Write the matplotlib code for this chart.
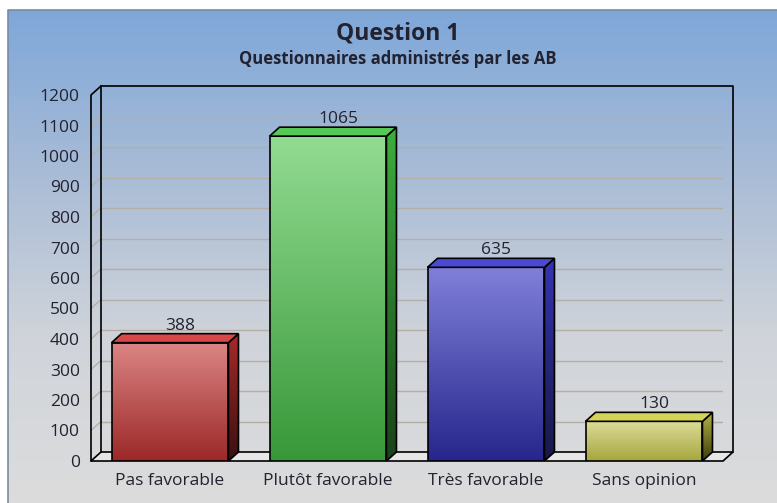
import numpy as np
import matplotlib.pyplot as plt
from matplotlib.patches import Polygon
from matplotlib.colors import LinearSegmentedColormap

# -----------------------------
# DATA
# -----------------------------
categories = ["Pas favorable", "Plutôt favorable", "Très favorable", "Sans opinion"]
values = [388, 1065, 635, 130]
y_ticks = [0, 100, 200, 300, 400, 500, 600, 700, 800, 900, 1000, 1100, 1200]

title = "Question 1"
subtitle = "Questionnaires administrés par les AB"

# (front top, front bottom, top face, side top, side bottom)
bar_colors = [
    ("#dc8585", "#9c2828", "#d84848", "#a82a2a", "#3a1010"),
    ("#92db92", "#389838", "#55c855", "#3eae3e", "#1a421a"),
    ("#8080da", "#26268c", "#4a4ad2", "#3434b2", "#181848"),
    ("#dcdc9a", "#a6a63e", "#d4d456", "#b4b444", "#3c3c10"),
]

plt.rcParams["font.family"] = ["Open Sans", "DejaVu Sans"]
text_color = "#222230"

W, H = 777, 503
fig = plt.figure(figsize=(W / 100, H / 100), dpi=100)
fig.patch.set_facecolor("white")

# -----------------------------
# BACKGROUND GRADIENT
# -----------------------------
bg = fig.add_axes([0, 0, 1, 1], zorder=-5)
bg.set_xlim(0, W)
bg.set_ylim(H, 0)
bg.axis("off")
bg_cmap = LinearSegmentedColormap.from_list(
    "bg", ["#7ea7d9", "#a9bcd6", "#d0d4da", "#dcdcdc"])
grad = np.linspace(0, 1, 256).reshape(-1, 1)
bg.imshow(grad, cmap=bg_cmap, extent=(8, W, H, 10), aspect="auto")
bg.plot([8, 8, W], [H, 10, 10], color="#7a8ba3", lw=1.2)

# -----------------------------
# PLOT AREA (front plane)
# -----------------------------
left, right, top, bottom = 91, 723, 95, 461
ax = fig.add_axes([left / W, 1 - bottom / H, (right - left) / W, (bottom - top) / H])
ax.set_xlim(-0.5, 3.5)
ax.set_ylim(0, 1200)
ax.patch.set_alpha(0)
for s in ax.spines.values():
    s.set_visible(False)

# depth offset in data units (~10 px right, ~9 px up)
ddx = 10 / 158
ddy = 9 / ((bottom - top) / 1200)
x0, x1 = -0.5, 3.5
grid_color = "#b4afa6"

# floor
floor = Polygon([(x0, 0), (x1, 0), (x1 + ddx, ddy), (x0 + ddx, ddy)],
                closed=True, facecolor="#e6e6e6", edgecolor="black", lw=1.2,
                zorder=1, clip_on=False)
ax.add_patch(floor)

# back wall gridlines + left wall diagonals
for t in y_ticks[1:-1]:
    ax.plot([x0 + ddx, x1 + ddx], [t + ddy, t + ddy], color=grid_color, lw=1.0, zorder=0.5)
    ax.plot([x0, x0 + ddx], [t, t + ddy], color=grid_color, lw=1.0, zorder=0.5)

# walls outline
ax.plot([x0 + ddx, x0 + ddx, x1 + ddx, x1 + ddx],
        [ddy, 1200 + ddy, 1200 + ddy, ddy], color="black", lw=1.2,
        clip_on=False, zorder=1.5)
ax.plot([x0, x0, x0 + ddx], [0, 1200, 1200 + ddy], color="black", lw=1.2,
        clip_on=False, zorder=1.5)

# -----------------------------
# BARS
# -----------------------------
half = 0.37
for i, (v, cols) in enumerate(zip(values, bar_colors)):
    fc_top, fc_bot, top_c, side_top, side_bot = cols
    bx0, bx1 = i - half, i + half

    # front face
    cm = LinearSegmentedColormap.from_list("f%d" % i, [fc_bot, fc_top])
    ax.imshow(np.linspace(0, 1, 128).reshape(-1, 1), cmap=cm, origin="lower",
              extent=(bx0, bx1, 0, v), aspect="auto", zorder=3)
    ax.add_patch(Polygon([(bx0, 0), (bx1, 0), (bx1, v), (bx0, v)], closed=True,
                         fill=False, edgecolor="black", lw=1.2, zorder=4))

    # side face
    side = Polygon([(bx1, 0), (bx1 + ddx, ddy), (bx1 + ddx, v + ddy), (bx1, v)],
                   closed=True, fill=False, edgecolor="black", lw=1.2, zorder=4)
    cs = LinearSegmentedColormap.from_list("s%d" % i, [side_bot, side_top])
    im = ax.imshow(np.linspace(0, 1, 128).reshape(-1, 1), cmap=cs, origin="lower",
                   extent=(bx1, bx1 + ddx, 0, v + ddy), aspect="auto", zorder=3)
    ax.add_patch(side)
    im.set_clip_path(side)

    # top face
    ax.add_patch(Polygon([(bx0, v), (bx1, v), (bx1 + ddx, v + ddy), (bx0 + ddx, v + ddy)],
                         closed=True, facecolor=top_c, edgecolor="black", lw=1.2,
                         zorder=4))

    ax.annotate(str(v), (i + ddx, v + ddy), xytext=(0, 0), textcoords="offset points",
                ha="center", va="bottom", fontsize=12.5, color=text_color, zorder=5)

ax.set_xlim(-0.5, 3.5)
ax.set_ylim(0, 1200)

# -----------------------------
# TICKS & TITLES
# -----------------------------
ax.set_yticks(y_ticks)
ax.set_yticklabels([str(t) for t in y_ticks], fontsize=12.5, color=text_color)
ax.set_xticks(range(len(categories)))
ax.set_xticklabels(categories, fontsize=12.5, color=text_color)
ax.tick_params(axis="y", length=0, pad=8)
ax.tick_params(axis="x", length=0, pad=8.5)

fig.text(398 / W, 1 - 33 / H, title, ha="center", va="center",
         fontsize=16.5, fontweight="bold", color=text_color)
fig.text(398 / W, 1 - 59 / H, subtitle, ha="center", va="center",
         fontsize=12, fontweight="bold", color=text_color)

fig.savefig("out.png", dpi=100)
